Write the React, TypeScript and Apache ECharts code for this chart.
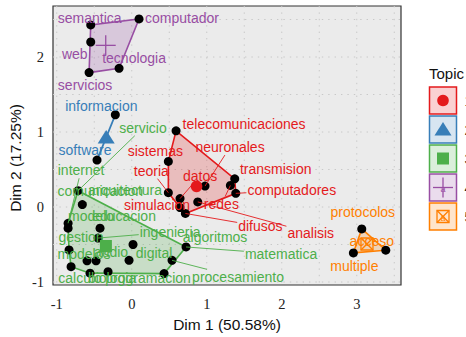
import { useEffect, useRef } from "react";
import * as echarts from "echarts";

const topicNames = ["1", "2", "3", "4", "5"];
const topicColors = ["#E41A1C", "#377EB8", "#4DAF4A", "#984EA3", "#FF7F00"];

const words = [
  "semantica", "computador", "web", "tecnologia", "servicios",
  "informacion", "software",
  "telecomunicaciones", "sistemas", "teoria", "neuronales", "transmision", "redes", "computadores", "datos", "analisis", "simulacion", "difusos",
  "protocolos", "multiple", "acceso",
  "servicio", "comunicacion", "internet", "modelo", "educacion", "ingenieria", "modelos", "audio", "matematica", "gestion", "arquitectura", "digital", "procesamiento", "calculo", "biologia", "programacion", "algoritmos",
];
const wordTopic = [
  3, 3, 3, 3, 3,
  1, 1,
  0, 0, 0, 0, 0, 0, 0, 0, 0, 0, 0,
  4, 4, 4,
  2, 2, 2, 2, 2, 2, 2, 2, 2, 2, 2, 2, 2, 2, 2, 2, 2,
];
const dim1 = [
  -0.547, 0.097, -0.547, -0.169, -0.569,
  -0.219, -0.463,
  0.591, 0.488, 0.488, 0.977, 1.373, 1.315, 1.387, 0.644, 0.88, 0.644, 0.715,
  3.067, 2.955, 3.387,
  -0.716, -0.659, -0.849, -0.849, -0.423, -0.449, -0.836, 0.017, 0.724, -0.596, -0.476, -0.036, 0.537, -0.809, -0.556, -0.316, 0.431,
];
const dim2 = [
  2.428, 2.507, 2.2, 1.849, 1.792,
  1.23, 0.625,
  1.016, 0.608, 0.191, 0.279, 0.375, 0.287, 0.182, 0.112, 0.068, -0.007, -0.086,
  -0.292, -0.612, -0.576,
  0.217, 0.033, -0.217, -0.283, -0.283, -0.414, -0.572, -0.5, -0.533, -0.717, -0.717, -0.711, -0.711, -0.796, -0.882, -0.862, -0.888,
];
// repelled label placement (pixel offsets from the point) and whether a segment is drawn
const labelDx = [
  -1, 43, -16, 15, -4,
  -14, -12,
  68, -13, -17, 25, 41, -9, 56, 20, 113, -23, 75,
  1, 1, -14,
  65, 18, 13, 23, 24, 72, 15, -22, 95, -6, 29, 25, 66, 9, 22, 40, 51,
];
const labelDy = [
  -7, -1, 12, -10, 12,
  -9, -10,
  -7, -10, -22, -39, -10, 19, -3, -23, 31, -3, 13,
  -17, 13, -9,
  -63, -14, -53, -12, -12, -6, 4, 7, 7, -24, -71, -7, 17, 11, 5, 6, -37,
];
const labelLink = [
  0, 0, 0, 0, 0,
  0, 0,
  0, 0, 1, 1, 0, 1, 1, 1, 1, 0, 1,
  0, 0, 0,
  1, 0, 1, 0, 0, 1, 0, 0, 1, 0, 0, 0, 1, 0, 0, 0, 0,
];

const xTicks = [-1, 0, 1, 2, 3];
const yTicks = [-1, 0, 1, 2];
const xGrid = [-1, -0.5, 0, 0.5, 1, 1.5, 2, 2.5, 3, 3.5];
const yGrid = [-1, -0.5, 0, 0.5, 1, 1.5, 2, 2.5];

const SANS = "Liberation Sans";
const SERIF = "Liberation Serif";

function rgba(hex: string, a: number) {
  const n = parseInt(hex.slice(1), 16);
  return `rgba(${(n >> 16) & 255},${(n >> 8) & 255},${n & 255},${a})`;
}

function convexHull(pts: number[][]) {
  const p = pts.slice().sort((a, b) => (a[0] - b[0]) || (a[1] - b[1]));
  if (p.length < 3) return p;
  const cross = (o: number[], a: number[], b: number[]) =>
    (a[0] - o[0]) * (b[1] - o[1]) - (a[1] - o[1]) * (b[0] - o[0]);
  const lower: number[][] = [];
  for (const q of p) {
    while (lower.length >= 2 && cross(lower[lower.length - 2], lower[lower.length - 1], q) <= 0) lower.pop();
    lower.push(q);
  }
  const upper: number[][] = [];
  for (let i = p.length - 1; i >= 0; i--) {
    const q = p[i];
    while (upper.length >= 2 && cross(upper[upper.length - 2], upper[upper.length - 1], q) <= 0) upper.pop();
    upper.push(q);
  }
  upper.pop();
  lower.pop();
  return lower.concat(upper);
}

let measureCtx: CanvasRenderingContext2D | null = null;
function textWidth(s: string) {
  if (!measureCtx) {
    measureCtx = document.createElement("canvas").getContext("2d");
  }
  if (!measureCtx) return s.length * 7.5;
  measureCtx.font = `14px ${SANS}`;
  return measureCtx.measureText(s).width;
}

function centroidShape(t: number, cx: number, cy: number, color: string): any {
  if (t === 0) {
    return { type: "circle", shape: { cx, cy, r: 5.8 }, style: { fill: color } };
  }
  if (t === 1) {
    return {
      type: "polygon",
      shape: { points: [[cx, cy - 7.5], [cx - 8.5, cy + 6], [cx + 8.5, cy + 6]] },
      style: { fill: color },
    };
  }
  if (t === 2) {
    return { type: "rect", shape: { x: cx - 6, y: cy - 6, width: 12, height: 12 }, style: { fill: color } };
  }
  if (t === 3) {
    return {
      type: "group",
      children: [
        { type: "line", shape: { x1: cx - 10, y1: cy, x2: cx + 10, y2: cy }, style: { stroke: color, lineWidth: 1.3 } },
        { type: "line", shape: { x1: cx, y1: cy - 10, x2: cx, y2: cy + 10 }, style: { stroke: color, lineWidth: 1.3 } },
      ],
    };
  }
  return {
    type: "group",
    children: [
      { type: "rect", shape: { x: cx - 6, y: cy - 6, width: 12, height: 12 }, style: { fill: "none", stroke: color, lineWidth: 1.3 } },
      { type: "line", shape: { x1: cx - 6, y1: cy - 6, x2: cx + 6, y2: cy + 6 }, style: { stroke: color, lineWidth: 1.3 } },
      { type: "line", shape: { x1: cx + 6, y1: cy - 6, x2: cx - 6, y2: cy + 6 }, style: { stroke: color, lineWidth: 1.3 } },
    ],
  };
}

export default function App() {
  const ref = useRef<HTMLDivElement>(null);

  useEffect(() => {
    if (!ref.current) return;
    const chart = echarts.init(ref.current, null, { renderer: "svg" });

    const points = dim1.map((x, i) => [x, dim2[i]]);
    const topicPoints = topicNames.map((_, t) => points.filter((_, i) => wordTopic[i] === t));
    const centroids = topicPoints.map((pts) => [
      pts.reduce((s, p) => s + p[0], 0) / pts.length,
      pts.reduce((s, p) => s + p[1], 0) / pts.length,
    ]);
    const hulls = topicPoints.map((pts) => convexHull(pts));

    const series: any[] = [];

    // dotted panel grid
    series.push({
      type: "custom",
      coordinateSystem: "cartesian2d",
      silent: true,
      z: 0,
      data: [[0, 0]],
      encode: { x: 0, y: 1 },
      renderItem: (params: any, api: any) => {
        const cs = params.coordSys;
        const children: any[] = [];
        xGrid.forEach((v) => {
          const px = api.coord([v, 0])[0];
          children.push({
            type: "line",
            shape: { x1: px, y1: cs.y, x2: px, y2: cs.y + cs.height },
            style: { stroke: "#c8c8c8", lineWidth: 1, lineDash: [1.4, 5] },
          });
        });
        yGrid.forEach((v) => {
          const py = api.coord([0, v])[1];
          children.push({
            type: "line",
            shape: { x1: cs.x, y1: py, x2: cs.x + cs.width, y2: py },
            style: { stroke: "#c8c8c8", lineWidth: 1, lineDash: [1.4, 5] },
          });
        });
        return { type: "group", children };
      },
    });

    // hulls
    hulls.forEach((hull, t) => {
      series.push({
        type: "custom",
        coordinateSystem: "cartesian2d",
        silent: true,
        z: 1,
        data: [centroids[t]],
        encode: { x: 0, y: 1 },
        renderItem: (_params: any, api: any) => {
          const pts = hull.map((p) => api.coord(p));
          if (pts.length < 3) {
            return {
              type: "polyline",
              shape: { points: pts },
              style: { stroke: topicColors[t], lineWidth: 1.8, fill: "none" },
            };
          }
          return {
            type: "polygon",
            shape: { points: pts },
            style: { fill: rgba(topicColors[t], 0.22), stroke: topicColors[t], lineWidth: 1.6 },
          };
        },
      });
    });

    // word points
    series.push({
      type: "scatter",
      data: points,
      symbol: "circle",
      symbolSize: 9,
      itemStyle: { color: "#000", opacity: 1 },
      z: 2,
      silent: true,
    });

    // centroids
    series.push({
      type: "custom",
      coordinateSystem: "cartesian2d",
      silent: true,
      z: 3,
      data: centroids,
      encode: { x: 0, y: 1 },
      renderItem: (params: any, api: any) => {
        const t = params.dataIndex;
        const c = api.coord(centroids[t]);
        return centroidShape(t, c[0], c[1], topicColors[t]);
      },
    });

    // repelled labels
    series.push({
      type: "custom",
      coordinateSystem: "cartesian2d",
      silent: true,
      z: 4,
      clip: false,
      data: points,
      encode: { x: 0, y: 1 },
      renderItem: (params: any, api: any) => {
        const i = params.dataIndex;
        const p = api.coord(points[i]);
        const cx = p[0] + labelDx[i];
        const cy = p[1] + labelDy[i];
        const color = topicColors[wordTopic[i]];
        const children: any[] = [];
        if (labelLink[i]) {
          const hw = textWidth(words[i]) / 2 + 1;
          const hh = 8;
          const vx = p[0] - cx;
          const vy = p[1] - cy;
          const t = Math.min(
            vx !== 0 ? hw / Math.abs(vx) : Infinity,
            vy !== 0 ? hh / Math.abs(vy) : Infinity
          );
          if (t < 1) {
            children.push({
              type: "line",
              shape: { x1: p[0], y1: p[1], x2: cx + vx * t, y2: cy + vy * t },
              style: { stroke: color, lineWidth: 0.9 },
            });
          }
        }
        children.push({
          type: "text",
          x: cx,
          y: cy,
          style: {
            text: words[i],
            fill: color,
            fontSize: 14,
            fontFamily: SANS,
            align: "center",
            verticalAlign: "middle",
          },
        });
        return { type: "group", children };
      },
    });

    // legend and y-axis title (drawn as graphics)
    const graphics: any[] = [
      {
        type: "text",
        x: 429,
        y: 73,
        style: { text: "Topic", fontSize: 15, fontFamily: SANS, fill: "#111", verticalAlign: "middle" },
      },
      {
        type: "text",
        x: 15,
        y: 158,
        rotation: Math.PI / 2,
        style: {
          text: "Dim 2 (17.25%)",
          fontSize: 15.5,
          fontFamily: SANS,
          fill: "#111",
          align: "center",
          verticalAlign: "middle",
        },
      },
    ];
    topicNames.forEach((name, t) => {
      const y0 = 87 + t * 29;
      const cx = 443;
      const cy = y0 + 13.5;
      graphics.push({
        type: "rect",
        shape: { x: 429.5, y: y0, width: 27, height: 27 },
        style: { fill: rgba(topicColors[t], 0.2), stroke: topicColors[t], lineWidth: 1.5 },
      });
      graphics.push({
        type: "text",
        x: cx,
        y: cy + 1,
        style: { text: "a", fontSize: 9, fontFamily: SANS, fill: topicColors[t], align: "center", verticalAlign: "middle" },
      });
      graphics.push(centroidShape(t, cx, cy, topicColors[t]));
      graphics.push({
        type: "text",
        x: 464.5,
        y: cy,
        style: { text: name, fontSize: 14, fontFamily: SANS, fill: "#222", verticalAlign: "middle" },
      });
    });

    chart.setOption({
      animation: false,
      grid: {
        left: 53,
        right: 65,
        top: 6,
        bottom: 48,
        show: true,
        backgroundColor: "#EBEBEB",
        borderColor: "#333",
        borderWidth: 1.2,
        containLabel: false,
      },
      xAxis: {
        type: "value",
        min: -1.05,
        max: 3.59,
        axisLine: { show: false },
        axisTick: { show: false },
        splitLine: { show: false },
        axisLabel: {
          customValues: xTicks,
          fontFamily: SERIF,
          fontSize: 14.5,
          color: "#222",
          margin: 11,
        },
        name: "Dim 1 (50.58%)",
        nameLocation: "middle",
        nameGap: 31,
        nameTextStyle: { fontFamily: SANS, fontSize: 15.5, color: "#111" },
      },
      yAxis: {
        type: "value",
        min: -1.04,
        max: 2.68,
        axisLine: { show: false },
        axisTick: { show: false },
        splitLine: { show: false },
        axisLabel: {
          customValues: yTicks,
          fontFamily: SERIF,
          fontSize: 14.5,
          color: "#222",
          margin: 9,
        },
      },
      graphic: graphics,
      series,
    });

    return () => {
      chart.dispose();
    };
  }, []);

  return (
    <div
      ref={ref}
      style={{ position: "absolute", left: 0, top: 0, width: 466, height: 337 }}
    />
  );
}
